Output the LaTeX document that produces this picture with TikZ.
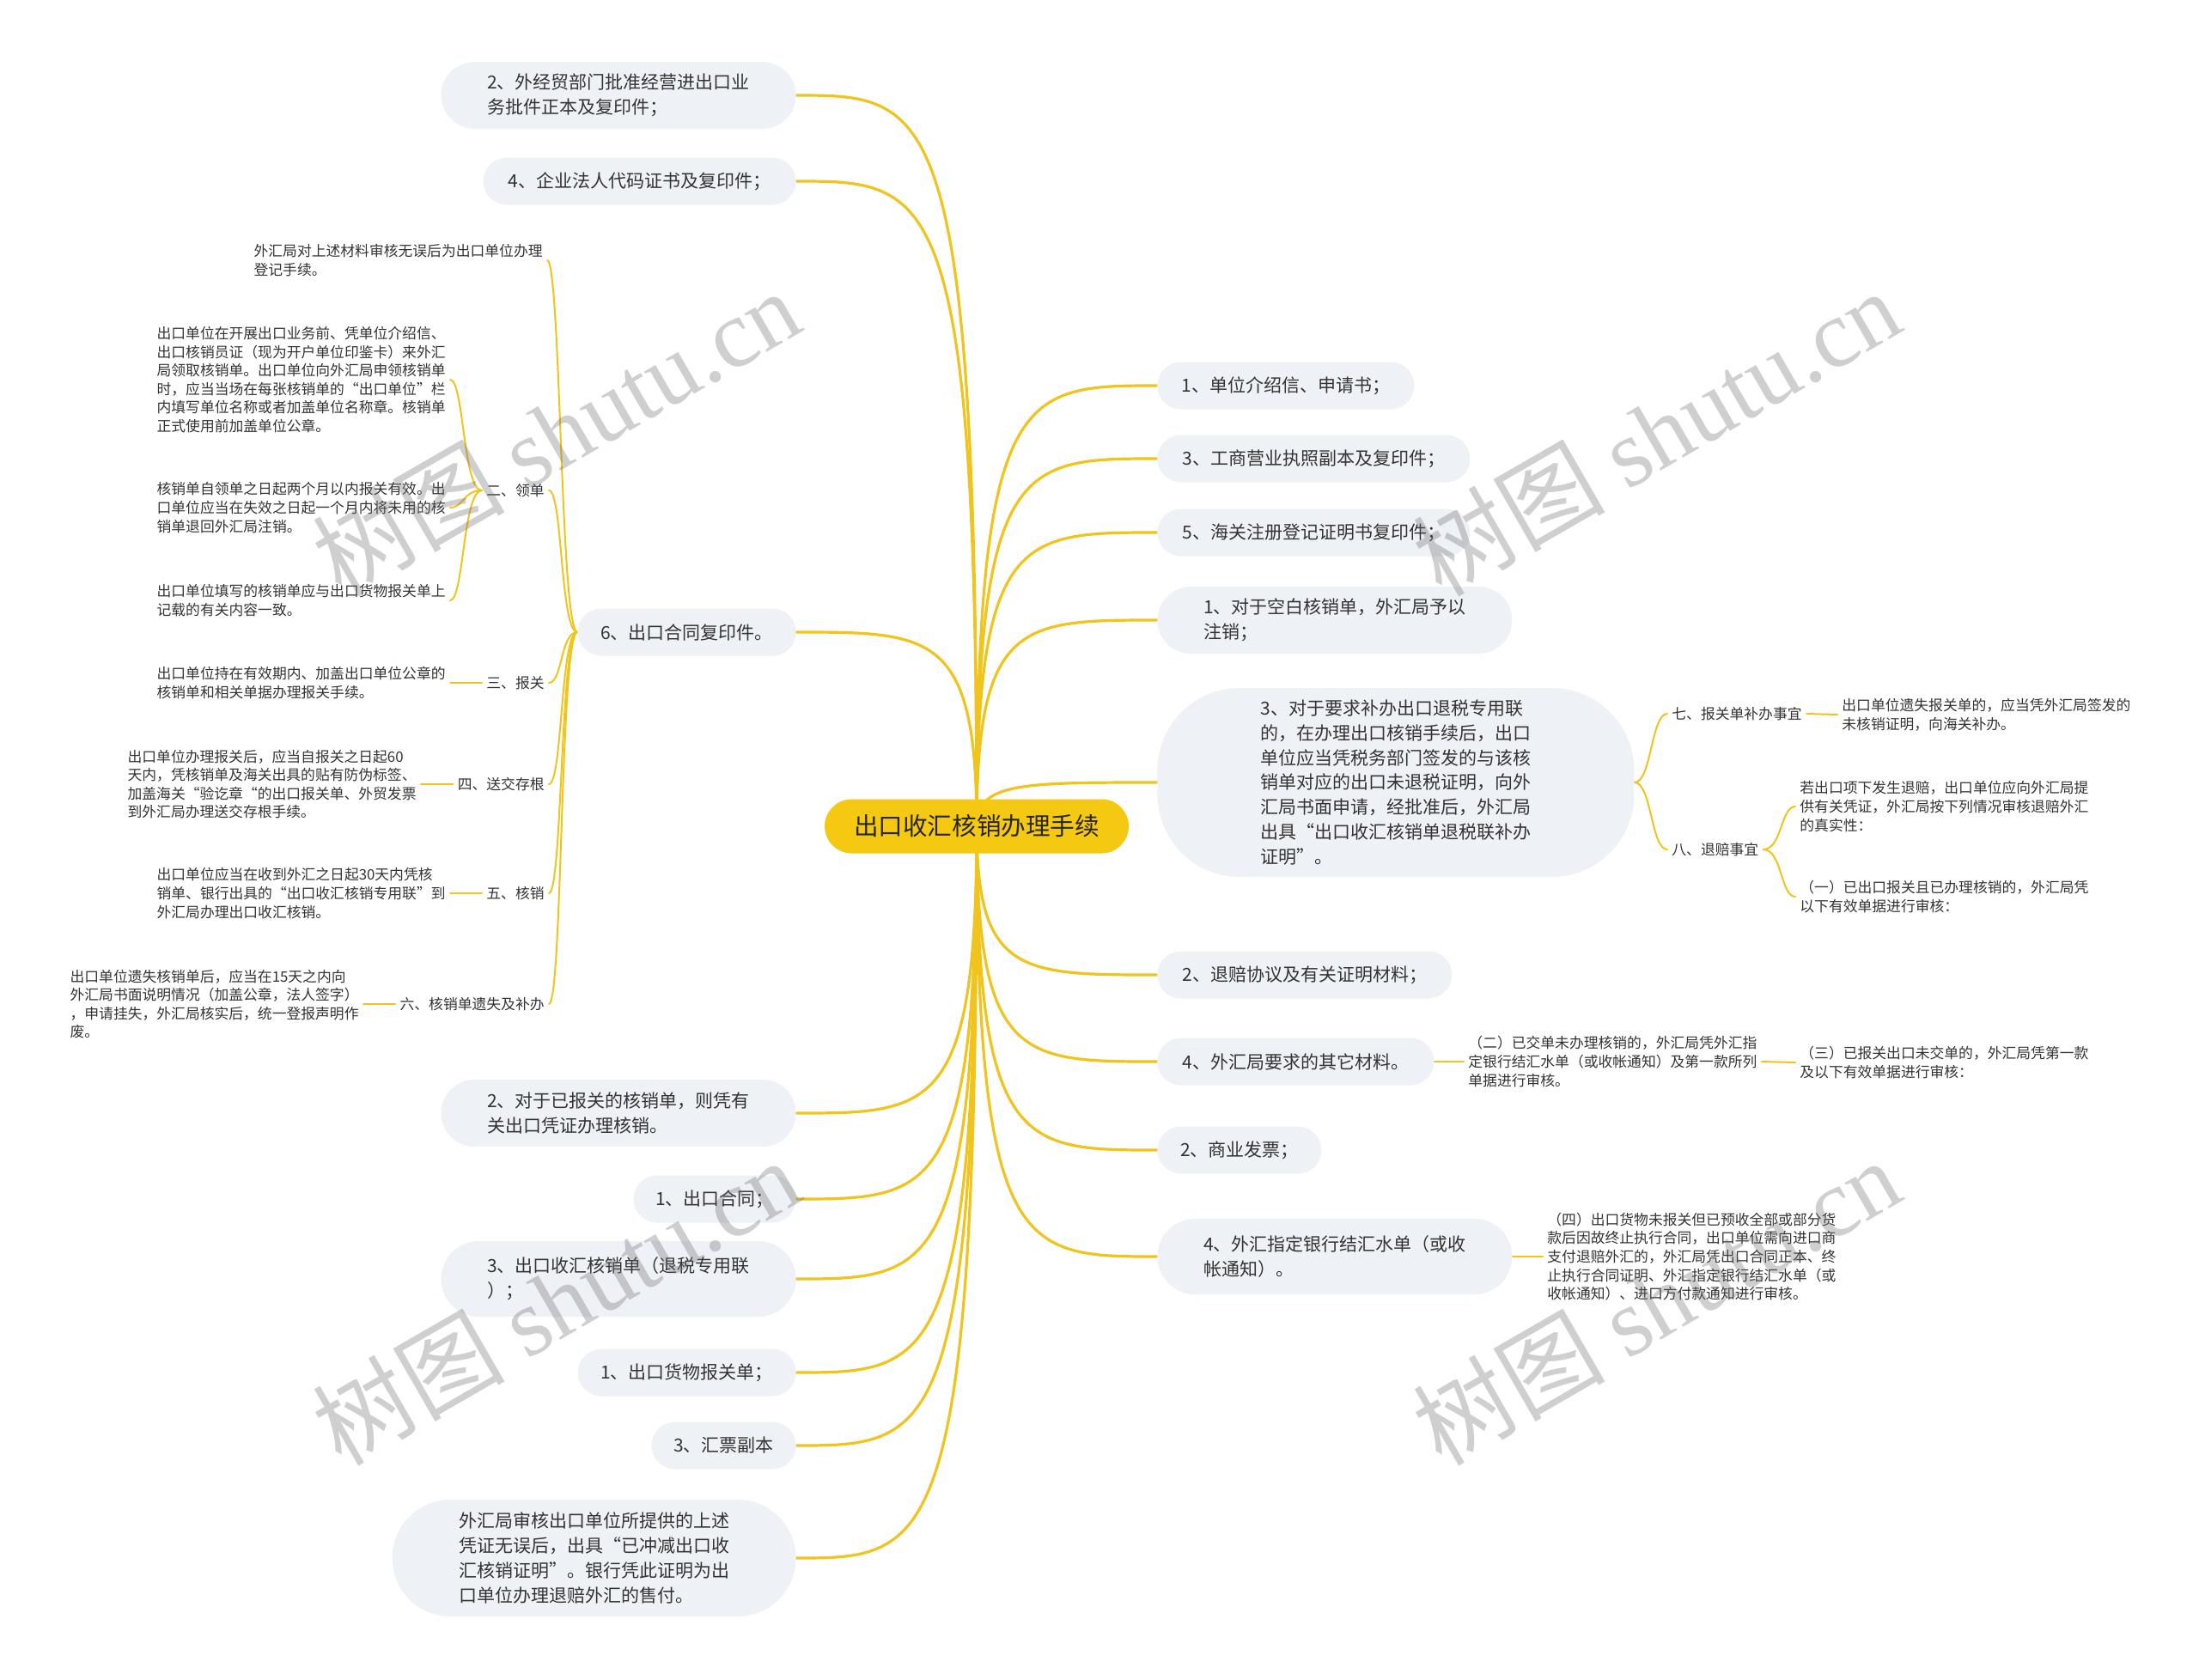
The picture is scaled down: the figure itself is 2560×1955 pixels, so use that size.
\documentclass[tikz,border=0pt]{standalone}
\usepackage{fontspec}
\setmainfont{Noto Sans CJK SC}
\newfontfamily\wmlatin{Liberation Serif}
\usetikzlibrary{calc}
\pgfdeclarelayer{bg}
\pgfsetlayers{bg,main}
\definecolor{lineY}{RGB}{240,196,28}
\definecolor{centerY}{RGB}{245,200,18}
\definecolor{nodeBG}{RGB}{238,241,245}
\definecolor{txt}{RGB}{51,51,51}
\definecolor{wmgray}{RGB}{110,110,110}
\begin{document}
\begin{tikzpicture}[x=0.5pt,y=-0.5pt,
  every node/.style={text=txt},
  mnode/.style={fill=nodeBG, align=left, inner sep=0pt, font=\fontsize{10.5}{14.4}\selectfont, minimum height=27.5pt, rounded corners=13.75pt},
  twoline/.style={minimum height=39pt, rounded corners=19.5pt},
  snode/.style={align=left, inner xsep=2.5pt, inner ysep=1pt, font=\fontsize{8.4}{10.8}\selectfont},
  branch/.style={draw=lineY, line width=1.6pt, line cap=round},
  subline/.style={draw=lineY, line width=1pt, line cap=round},
  mcurve/.style={to path={.. controls (\tikztostart |- \tikztotarget) and ($(\tikztostart |- \tikztotarget)!0.25!(\tikztotarget)$) .. (\tikztotarget)}},
  wmark/.style={rotate=30, text=wmgray, opacity=0.33, font=\fontsize{56}{60}\selectfont},
]
\useasboundingbox (0,0) rectangle (2560,1955);

% central node
\node[fill=centerY, rounded corners=15.75pt, minimum width=177pt, minimum height=31.5pt, inner sep=0pt, font=\fontsize{14.3}{17}\selectfont, text=black!85] (c) at (1137,962) {出口收汇核销办理手续};

% right main nodes
\node[mnode, anchor=west, minimum width=149.5pt] (r1) at (1347,449) {1、单位介绍信、申请书；};
\node[mnode, anchor=west, minimum width=182pt] (r2) at (1347,534) {3、工商营业执照副本及复印件；};
\node[mnode, anchor=west, minimum width=182pt] (r3) at (1347,620) {5、海关注册登记证明书复印件；};
\node[mnode, twoline, anchor=west, minimum width=206.5pt] (r4) at (1347,722) {1、对于空白核销单，外汇局予以\\注销；};
\node[mnode, anchor=west, minimum width=277.5pt, minimum height=110pt, rounded corners=48pt] (r5) at (1347,911) {3、对于要求补办出口退税专用联\\的，在办理出口核销手续后，出口\\单位应当凭税务部门签发的与该核\\销单对应的出口未退税证明，向外\\汇局书面申请，经批准后，外汇局\\出具“出口收汇核销单退税联补办\\证明”。};
\node[mnode, anchor=west, minimum width=171.5pt] (r6) at (1347,1135) {2、退赔协议及有关证明材料；};
\node[mnode, anchor=west, minimum width=161pt] (r7) at (1347,1236) {4、外汇局要求的其它材料。};
\node[mnode, anchor=west, minimum width=95.5pt] (r8) at (1347,1339) {2、商业发票；};
\node[mnode, anchor=west, minimum width=206.5pt, minimum height=44pt, rounded corners=22pt] (r9) at (1347,1463) {4、外汇指定银行结汇水单（或收\\帐通知）。};

% left main nodes
\node[mnode, twoline, anchor=east, minimum width=206.5pt] (l1) at (927,111) {2、外经贸部门批准经营进出口业\\务批件正本及复印件；};
\node[mnode, anchor=east, minimum width=182pt] (l2) at (927,211) {4、企业法人代码证书及复印件；};
\node[mnode, anchor=east, minimum width=127pt] (l3) at (927,736) {6、出口合同复印件。};
\node[mnode, twoline, anchor=east, minimum width=206.5pt] (l4) at (927,1296) {2、对于已报关的核销单，则凭有\\关出口凭证办理核销。};
\node[mnode, anchor=east, minimum width=94.5pt] (l5) at (927,1396) {1、出口合同；};
\node[mnode, anchor=east, minimum width=206.5pt, minimum height=44pt, rounded corners=22pt] (l6) at (927,1489) {3、出口收汇核销单（退税专用联\\）；};
\node[mnode, anchor=east, minimum width=127pt] (l7) at (927,1598) {1、出口货物报关单；};
\node[mnode, anchor=east, minimum width=84pt] (l8) at (927,1683) {3、汇票副本};
\node[mnode, anchor=east, minimum width=235pt, minimum height=68pt, rounded corners=34pt] (l9) at (927,1814) {外汇局审核出口单位所提供的上述\\凭证无误后，出具“已冲减出口收\\汇核销证明”。银行凭此证明为出\\口单位办理退赔外汇的售付。};

% left small nodes (children of l3)
\node[snode, anchor=east] (c1) at (637,303) {外汇局对上述材料审核无误后为出口单位办理\\登记手续。};
\node[snode, anchor=east] (c2) at (639,571) {二、领单};
\node[snode, anchor=east] (g1) at (524,442) {出口单位在开展出口业务前、凭单位介绍信、\\出口核销员证（现为开户单位印鉴卡）来外汇\\局领取核销单。出口单位向外汇局申领核销单\\时，应当当场在每张核销单的“出口单位”栏\\内填写单位名称或者加盖单位名称章。核销单\\正式使用前加盖单位公章。};
\node[snode, anchor=east] (g2) at (524,591) {核销单自领单之日起两个月以内报关有效。出\\口单位应当在失效之日起一个月内将未用的核\\销单退回外汇局注销。};
\node[snode, anchor=east] (g3) at (524,699) {出口单位填写的核销单应与出口货物报关单上\\记载的有关内容一致。};
\node[snode, anchor=east] (c3) at (639,795) {三、报关};
\node[snode, anchor=east] (c3c) at (524,795) {出口单位持在有效期内、加盖出口单位公章的\\核销单和相关单据办理报关手续。};
\node[snode, anchor=east] (c4) at (639,913) {四、送交存根};
\node[snode, anchor=east] (c4c) at (490,913) {出口单位办理报关后，应当自报关之日起60\\天内，凭核销单及海关出具的贴有防伪标签、\\加盖海关“验讫章“的出口报关单、外贸发票\\到外汇局办理送交存根手续。};
\node[snode, anchor=east] (c5) at (639,1040) {五、核销};
\node[snode, anchor=east] (c5c) at (524,1040) {出口单位应当在收到外汇之日起30天内凭核\\销单、银行出具的“出口收汇核销专用联”到\\外汇局办理出口收汇核销。};
\node[snode, anchor=east] (c6) at (639,1169) {六、核销单遗失及补办};
\node[snode, anchor=east] (c6c) at (423,1169) {出口单位遗失核销单后，应当在15天之内向\\外汇局书面说明情况（加盖公章，法人签字）\\，申请挂失，外汇局核实后，统一登报声明作\\废。};

% right small nodes
\node[snode, anchor=west] (q7) at (1941,831) {七、报关单补办事宜};
\node[snode, anchor=west] (q7c) at (2139,832) {出口单位遗失报关单的，应当凭外汇局签发的\\未核销证明，向海关补办。};
\node[snode, anchor=west] (q8) at (1941,989) {八、退赔事宜};
\node[snode, anchor=west] (q8a) at (2090,939) {若出口项下发生退赔，出口单位应向外汇局提\\供有关凭证，外汇局按下列情况审核退赔外汇\\的真实性：};
\node[snode, anchor=west] (q8b) at (2090,1044) {（一）已出口报关且已办理核销的，外汇局凭\\以下有效单据进行审核：};
\node[snode, anchor=west] (r7c) at (1704,1236) {（二）已交单未办理核销的，外汇局凭外汇指\\定银行结汇水单（或收帐通知）及第一款所列\\单据进行审核。};
\node[snode, anchor=west] (r7cc) at (2090,1237) {（三）已报关出口未交单的，外汇局凭第一款\\及以下有效单据进行审核：};
\node[snode, anchor=west] (r9c) at (1796,1463) {（四）出口货物未报关但已预收全部或部分货\\款后因故终止执行合同，出口单位需向进口商\\支付退赔外汇的，外汇局凭出口合同正本、终\\止执行合同证明、外汇指定银行结汇水单（或\\收帐通知）、进口方付款通知进行审核。};

\begin{pgfonlayer}{bg}
\fill[white] (0,0) rectangle (2560,1955);
% main branches
\foreach \t in {r1,r2,r3,r4,r5,r6,r7,r8,r9}
  \draw[branch] (c.center) to[mcurve] (\t.west);
\foreach \t in {l1,l2,l3,l4,l5,l6,l7,l8,l9}
  \draw[branch] (c.center) to[mcurve] (\t.east);
% left brackets
\foreach \t in {c1,c2,c3,c4,c5,c6}
  \draw[subline] (l3.west) .. controls +(-20,0) and +(16,0) .. (\t.east);
\foreach \t in {g1,g2,g3}
  \draw[subline] (c2.west) .. controls +(-22,0) and +(16,0) .. (\t.east);
\draw[subline] (c3.west) -- (c3c.east);
\draw[subline] (c4.west) -- (c4c.east);
\draw[subline] (c5.west) -- (c5c.east);
\draw[subline] (c6.west) -- (c6c.east);
% right brackets
\foreach \t in {q7,q8}
  \draw[subline] (r5.east) .. controls +(20,0) and +(-19,0) .. (\t.west);
\foreach \t in {q8a,q8b}
  \draw[subline] (q8.east) .. controls +(22,0) and +(-17,0) .. (\t.west);
\draw[subline] (q7.east) -- (q7c.west);
\draw[subline] (r7.east) -- (r7c.west);
\draw[subline] (r7c.east) -- (r7cc.west);
\draw[subline] (r9.east) -- (r9c.west);
\end{pgfonlayer}

% watermarks
\node[wmark] (wm1) at (647,503) {树图 {\wmlatin shutu.cn}};
\node[wmark] (wm2) at (1928,503) {树图 {\wmlatin shutu.cn}};
\node[wmark] (wm3) at (647,1515) {树图 {\wmlatin shutu.cn}};
\node[wmark] (wm4) at (1928,1515) {树图 {\wmlatin shutu.cn}};
\end{tikzpicture}
\end{document}
